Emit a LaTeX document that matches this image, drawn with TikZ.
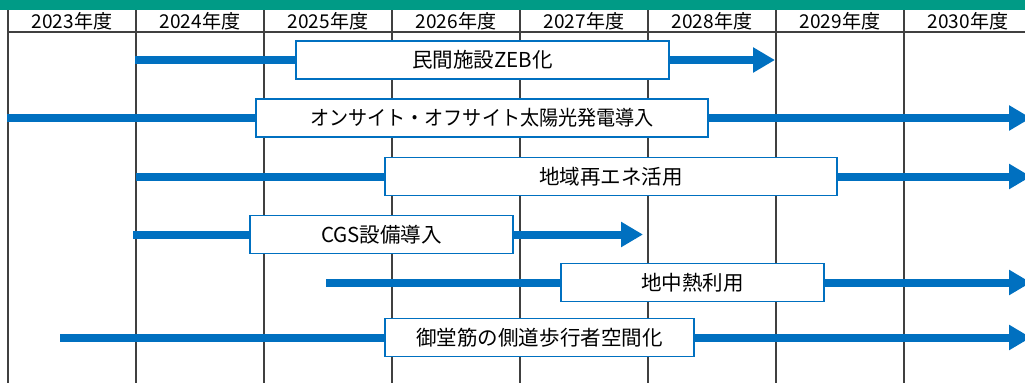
\documentclass[tikz,border=0pt]{standalone}
\usepackage{fontspec}
\setmainfont{Noto Sans CJK JP}
\usepackage{xcolor}
\usetikzlibrary{arrows.meta,positioning}
\definecolor{planblue}{RGB}{0,112,192}
\definecolor{bargreen}{RGB}{0,155,134}
\definecolor{gridgray}{RGB}{64,64,64}

\begin{document}
\begin{tikzpicture}[x=0.75pt,y=-0.75pt]
      \tikzstyle{year}=[inner sep=0,font=\fontsize{14.3}{17}\selectfont]
      \tikzstyle{task}=[draw=planblue,line width=1.1pt,fill=white,%
        minimum height=28.5pt,inner sep=0,font=\fontsize{15.4}{18}\selectfont]
      \tikzstyle{bar}=[draw=planblue,line width=6pt]
      \tikzstyle{goal}=[bar,-{Triangle[length=16.5pt,width=18pt]}]
      \tikzstyle{rule}=[draw=gridgray,line width=1.1pt]

      \useasboundingbox (0,0) rectangle (1025,383);
      \clip (0,0) rectangle (1025,383);

      % header
      \fill[bargreen] (0,0) rectangle (1025,10);
      \path[rule] (8,32) -- (1040,32);
      \path[rule] (8,10) -- (8,383);
      \path[rule] (136,10) -- (136,383);
      \path[rule] (264,10) -- (264,383);
      \path[rule] (392,10) -- (392,383);
      \path[rule] (520,10) -- (520,383);
      \path[rule] (648,10) -- (648,383);
      \path[rule] (776,10) -- (776,383);
      \path[rule] (904,10) -- (904,383);

      \node[year] (y23) at (72,21) {2023年度};
      \node[year] (y24) at (200,21) {2024年度};
      \node[year] (y25) at (328,21) {2025年度};
      \node[year] (y26) at (456,21) {2026年度};
      \node[year] (y27) at (584,21) {2027年度};
      \node[year] (y28) at (712,21) {2028年度};
      \node[year] (y29) at (840,21) {2029年度};
      \node[year] (y30) at (968,21) {2030年度};

      % measures
      \coordinate (s1) at (135,60);
      \coordinate (e1) at (775,60);
      \node[task,minimum width=279.75pt] (zeb) at (482.5,60) {民間施設ZEB化};

      \coordinate (s2) at (7,118);
      \coordinate (e2) at (1031,118);
      \node[task,minimum width=339pt] (pv) at (482,118)
        {\addfontfeature{FakeStretch=0.93}オンサイト・オフサイト太陽光発電導入};

      \coordinate (s3) at (136,176.5);
      \coordinate (e3) at (1031,176.5);
      \node[task,minimum width=339pt] (re) at (611,176.5) {地域再エネ活用};

      \coordinate (s4) at (133,234.5);
      \coordinate (e4) at (643,234.5);
      \node[task,minimum width=197.25pt] (cgs) at (381.5,234.5) {CGS設備導入};

      \coordinate (s5) at (326,282.5);
      \coordinate (e5) at (1031,282.5);
      \node[task,minimum width=197.25pt] (geo) at (692.5,282.5) {地中熱利用};

      \coordinate (s6) at (60,337.5);
      \coordinate (e6) at (1031,337.5);
      \node[task,minimum width=231.75pt] (walk) at (539.5,337.5) {御堂筋の側道歩行者空間化};

      \path[bar] (s1) -- (zeb.west);
      \path[goal] (zeb.east) -- (e1);
      \path[bar] (s2) -- (pv.west);
      \path[goal] (pv.east) -- (e2);
      \path[bar] (s3) -- (re.west);
      \path[goal] (re.east) -- (e3);
      \path[bar] (s4) -- (cgs.west);
      \path[goal] (cgs.east) -- (e4);
      \path[bar] (s5) -- (geo.west);
      \path[goal] (geo.east) -- (e5);
      \path[bar] (s6) -- (walk.west);
      \path[goal] (walk.east) -- (e6);
    \end{tikzpicture}
\end{document}
